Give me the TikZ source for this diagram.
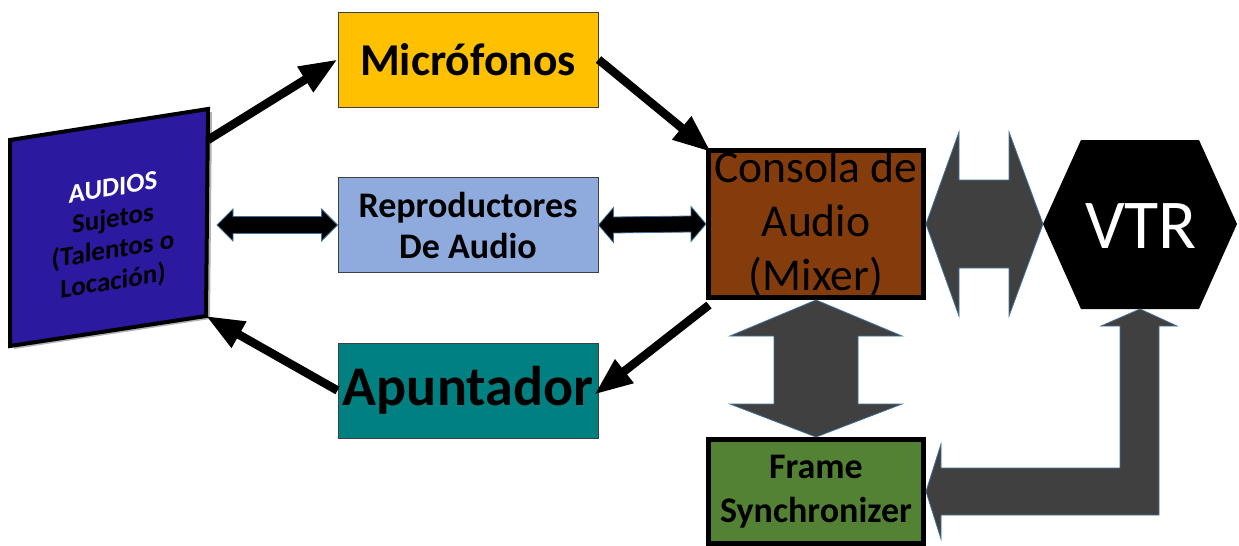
\documentclass[tikz,border=0pt]{standalone}
\usepackage{fontspec}
\setmainfont{Carlito}
\usetikzlibrary{arrows.meta,calc}
\definecolor{audioblue}{RGB}{43,26,160}
\definecolor{micyellow}{RGB}{255,192,0}
\definecolor{repblue}{RGB}{143,170,220}
\definecolor{apunteal}{RGB}{0,128,128}
\definecolor{consbrown}{RGB}{132,60,12}
\definecolor{framegreen}{RGB}{84,130,53}
\definecolor{blockgray}{RGB}{64,64,64}
\definecolor{edgeblue}{RGB}{65,113,156}
\begin{document}
\begin{tikzpicture}[x=0.5pt,y=-0.5pt,
  box/.style={draw=blockgray,line width=0.5pt,minimum width=130pt,minimum height=47.5pt,inner sep=0pt,align=center},
  thickbox/.style={draw=black,line width=2.5pt,minimum width=107.5pt,inner sep=0pt},
  link/.style={line width=4.25pt,-{Triangle[length=19pt,width=14pt]}},
  block/.style={fill=blockgray,draw=edgeblue,line width=0.4pt},
  dblock/.style={fill=black,draw=edgeblue,line width=0.4pt}]
\useasboundingbox (0,0) rectangle (1239,546);
% panel AUDIOS
\coordinate (a1) at (10,140);
\coordinate (a2) at (208,109);
\coordinate (a3) at (206,316);
\coordinate (a4) at (10,346);
\fill[black!30] ([shift={(4,3)}]a1) -- ([shift={(4,3)}]a2) -- ([shift={(4,3)}]a3) -- ([shift={(4,3)}]a4) -- cycle;
\draw[fill=audioblue,line width=2pt] (a1) -- (a2) -- (a3) -- (a4) -- cycle;
\begin{scope}[shift={(113,236)},yslant=0.16]
\node[transform shape,align=center,font=\bfseries\fontsize{13.5}{15.6}\selectfont] (aud) at (0,0)
  {\textcolor{white}{AUDIOS}\\Sujetos\\(Talentos o\\Locación)};
\end{scope}
% cajas
\node[box,fill=micyellow,font=\bfseries\fontsize{22.8}{26}\selectfont] (mic) at (468,59.5) {Micrófonos};
\node[box,fill=repblue,font=\bfseries\fontsize{18}{20.5}\selectfont] (rep) at (468,225) {Reproductores\\De Audio};
\node[box,fill=apunteal,font=\bfseries\fontsize{28}{30}\selectfont] (apun) at (468,390.5) {Apuntador};
\node[thickbox,fill=consbrown,minimum height=73.5pt] (cons) at (816,224) {};
\node[align=center,font=\fontsize{22.8}{27}\selectfont] (consT) at (cons.center) {Consola de\\Audio\\(Mixer)};
\node[thickbox,fill=framegreen,minimum height=52pt] (frame) at (816,491.5) {};
\node[align=center,font=\bfseries\fontsize{18}{22}\selectfont] (frameT) at (frame.center) {Frame\\Synchronizer};
% VTR
\coordinate (vtrW) at (1043,224);
\coordinate (vtrS) at (1140,309);
\fill (vtrW) -- (1081,140) -- (1199,140) -- (1237,224) -- (1199,309) -- (1081,309) -- cycle;
\node[text=white,font=\fontsize{35}{38}\selectfont] (vtr) at (1141,226) {VTR};
% flechas negras
\coordinate (audR) at (217,225);
\draw[dblock] (audR) -- ++(16,-16) -- ++(0,7.5) -- ($(rep.west)+(-16,-8.5)$) -- ++(0,-7.5) -- (rep.west)
  -- ++(-16,16) -- ++(0,-7.5) -- ($(audR)+(16,8.5)$) -- ++(0,7.5) -- cycle;
\draw[dblock] (rep.east) -- ++(15,-17.5) -- ++(0,9.5) -- ($(cons.west)+(-15,-8)$) -- ++(0,-9.5) -- (cons.west)
  -- ++(-15,17.5) -- ++(0,-9.5) -- ($(rep.east)+(15,8)$) -- ++(0,9.5) -- cycle;
\draw[link] ($(a2)!0.15!(a3)$) -- (mic.west);
\draw[link] (mic.east) -- ($(cons.north west)+(5,4)$);
\draw[link] ($(cons.south west)+(3,5)$) -- ($(apun.east)+(-4,4)$);
\draw[link] (apun.west) -- (a3);
% flechas grises
\draw[block] (cons.east) -- ++(33,-92) -- ++(0,48) -- ($(vtrW)+(-34,-44)$) -- ++(0,-48) -- (vtrW)
  -- ++(-34,92) -- ++(0,-48) -- ($(cons.east)+(33,44)$) -- ++(0,48) -- cycle;
\draw[block] (cons.south) -- ++(86,36) -- ++(-44,0) -- ($(frame.north)+(42,-33)$) -- ++(44,0) -- (frame.north)
  -- ++(-86,-33) -- ++(44,0) -- ($(cons.south)+(-42,36)$) -- ++(-44,0) -- cycle;
\draw[block] (vtrS) -- ++(37,17) -- ++(-18,0) -- ++(0,189) -- ($(frame.east)+(15,23.5)$) -- ++(0,24) -- (frame.east)
  -- ++(15,-47.5) -- ++(0,24) -- ++(179,0) -- ++(0,-142) -- ++(-19,0) -- cycle;
\end{tikzpicture}
\end{document}
